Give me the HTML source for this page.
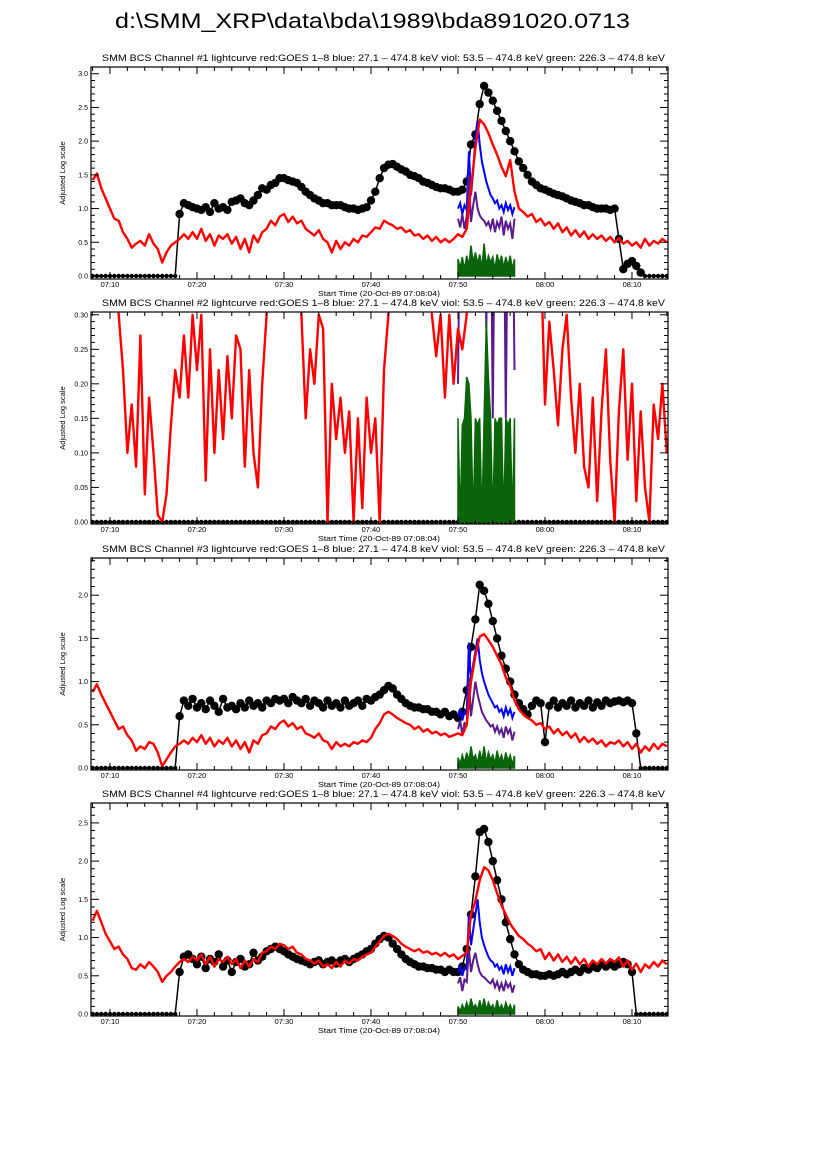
<!DOCTYPE html>
<html>
<head>
<meta charset="utf-8">
<style>
html,body{margin:0;padding:0;background:#fff;}
svg{display:block;font-family:"Liberation Sans",sans-serif;}
</style>
</head>
<body>
<svg id="fig" width="826" height="1169" viewBox="0 0 826 1169" xmlns="http://www.w3.org/2000/svg">
<rect x="0" y="0" width="826" height="1169" fill="#fff"/>
<text x="115" y="28" font-size="21" textLength="515" lengthAdjust="spacingAndGlyphs" fill="#000">d:\SMM_XRP\data\bda\1989\bda891020.0713</text>
</svg>
<script>
// ---- shared time grids (minutes after 07:00) ----
const tStart = 8, tStep = 0.5;           // red / black series grid start & step
const hxStart = 50, hxStep = 0.25;       // blue / violet / green grid start & step
const xTickMinutes = [10,20,30,40,50,60,70];
const xTickLabels = ["07:10","07:20","07:30","07:40","07:50","08:00","08:10"];

// ---- Panel 1 ----
const p1Red = [1.42,1.52,1.30,1.15,1.00,0.85,0.82,0.65,0.55,0.42,
0.48,0.52,0.45,0.62,0.48,0.40,0.20,0.35,0.45,0.50,
0.55,0.62,0.55,0.65,0.55,0.70,0.52,0.62,0.45,0.60,
0.55,0.62,0.48,0.58,0.40,0.55,0.35,0.60,0.50,0.65,
0.70,0.82,0.75,0.88,0.92,0.80,0.88,0.78,0.82,0.70,
0.65,0.60,0.68,0.55,0.50,0.35,0.52,0.40,0.50,0.45,
0.55,0.50,0.60,0.58,0.65,0.72,0.70,0.82,0.78,0.75,
0.70,0.72,0.65,0.68,0.60,0.62,0.55,0.60,0.52,0.58,
0.50,0.55,0.50,0.55,0.62,0.58,0.70,1.30,1.90,2.32,
2.25,2.12,1.95,1.80,1.62,1.48,1.72,1.25,1.00,0.95,
0.88,0.92,0.80,0.85,0.75,0.80,0.70,0.78,0.65,0.72,
0.60,0.68,0.58,0.66,0.55,0.62,0.55,0.60,0.52,0.58,
0.50,0.56,0.48,0.52,0.45,0.50,0.42,0.55,0.45,0.52,
0.48,0.55,0.50];
const p1Black = [0,0,0,0,0,0,0,0,0,0,
0,0,0,0,0,0,0,0,0,0,
0.92,1.08,1.05,1.02,1.00,0.98,1.02,0.95,1.08,1.00,
1.02,0.98,1.10,1.12,1.15,1.08,1.05,1.12,1.20,1.30,
1.28,1.35,1.38,1.45,1.45,1.42,1.40,1.38,1.32,1.25,
1.20,1.15,1.12,1.08,1.08,1.05,1.05,1.05,1.02,1.00,
1.00,0.98,1.00,1.02,1.12,1.25,1.45,1.60,1.65,1.66,
1.62,1.58,1.55,1.50,1.48,1.45,1.40,1.38,1.35,1.32,
1.30,1.30,1.28,1.25,1.25,1.28,1.40,1.95,2.10,2.55,
2.82,2.72,2.60,2.45,2.30,2.15,2.00,1.85,1.70,1.60,
1.50,1.40,1.35,1.30,1.28,1.25,1.22,1.20,1.18,1.15,
1.12,1.10,1.08,1.05,1.05,1.02,1.00,1.00,1.00,0.98,
1.00,0.55,0.10,0.18,0.22,0.15,0.05,0,0,0,
0,0,0];
const p1Blue = [1.00,1.08,0.92,1.05,0.98,1.85,1.20,1.55,2.05,2.30,1.95,1.70,1.55,1.40,1.30,1.20,1.15,1.08,1.12,1.00,1.05,0.95,1.08,0.98,1.05,0.92,1.02];
const p1Viol = [0.85,0.72,0.92,0.70,0.88,1.50,0.80,1.05,1.25,1.00,0.90,0.85,0.82,0.75,0.80,0.70,0.85,0.65,0.80,0.72,0.88,0.60,0.82,0.70,0.78,0.55,0.85];
const p1Green = [0.25,0.12,0.28,0.10,0.30,0.15,0.45,0.20,0.35,0.18,0.32,0.12,0.48,0.15,0.30,0.20,0.28,0.10,0.32,0.18,0.30,0.12,0.28,0.15,0.30,0.10,0.25];
const p1YTicks = [0,0.5,1.0,1.5,2.0,2.5,3.0];
const p1YLabels = ["0.0","0.5","1.0","1.5","2.0","2.5","3.0"];

// ---- Panel 2 ----
const p2Red = [0.40,0.40,0.40,0.40,0.40,0.40,0.30,0.22,0.10,0.17,
0.08,0.27,0.04,0.18,0.10,0.01,0.00,0.04,0.14,0.22,
0.18,0.27,0.18,0.30,0.22,0.30,0.06,0.25,0.10,0.22,
0.12,0.24,0.15,0.27,0.25,0.08,0.22,0.10,0.05,0.20,
0.30,0.40,0.40,0.40,0.40,0.40,0.40,0.40,0.30,0.15,
0.25,0.20,0.30,0.28,0.00,0.20,0.12,0.18,0.10,0.16,
0.00,0.15,0.02,0.18,0.10,0.15,0.00,0.22,0.30,0.40,
0.40,0.40,0.40,0.40,0.40,0.40,0.40,0.40,0.30,0.24,
0.30,0.18,0.30,0.20,0.28,0.25,0.30,0.40,0.40,0.40,
0.40,0.40,0.40,0.40,0.40,0.40,0.40,0.40,0.40,0.40,
0.40,0.40,0.40,0.40,0.17,0.29,0.22,0.14,0.25,0.30,
0.18,0.10,0.20,0.08,0.05,0.18,0.03,0.16,0.25,0.09,
0.00,0.16,0.25,0.09,0.20,0.03,0.16,0.05,0.00,0.17,
0.12,0.20,0.10];
const p2Black = [0,0,0,0,0,0,0,0,0,0,0,0,0,0,0,0,0,0,0,0,
0,0,0,0,0,0,0,0,0,0,0,0,0,0,0,0,0,0,0,0,
0,0,0,0,0,0,0,0,0,0,0,0,0,0,0,0,0,0,0,0,
0,0,0,0,0,0,0,0,0,0,0,0,0,0,0,0,0,0,0,0,
0,0,0,0,0,0,0,0,0,0,0,0,0,0,0,0,0,0,0,0,
0,0,0,0,0,0,0,0,0,0,0,0,0,0,0,0,0,0,0,0,
0,0,0,0,0,0,0,0,0,0,0,0,0];
const p2Blue = [0.5,0.5,0.5,0.5,0.5,0.5,0.5,0.5,0.5,0.5,0.5,0.5,0.5,0.5,0.5,0.5,0.5,0.5,0.5,0.5,0.5,0.5,0.5,0.5,0.5,0.5,0.5];
const p2Viol = [0.20,0.5,0.5,0.5,0.5,0.5,0.5,0.5,0.5,0.5,0.5,0.5,0.5,0.28,0.5,0.5,0.15,0.5,0.5,0.5,0.5,0.5,0.15,0.5,0.5,0.5,0.22];
const p2Green = [0.15,0.0,0.14,0.15,0.21,0.20,0.15,0.0,0.15,0.14,0.15,0.0,0.15,0.29,0.21,0.15,0.0,0.15,0.14,0.15,0.15,0.0,0.15,0.14,0.15,0.0,0.15];
const p2YTicks = [0,0.05,0.10,0.15,0.20,0.25,0.30];
const p2YLabels = ["0.00","0.05","0.10","0.15","0.20","0.25","0.30"];

// ---- Panel 3 ----
const p3Red = [0.88,0.97,0.85,0.75,0.65,0.55,0.45,0.48,0.38,0.32,
0.20,0.25,0.22,0.30,0.28,0.18,0.02,0.10,0.18,0.25,
0.28,0.32,0.28,0.35,0.30,0.38,0.28,0.35,0.25,0.32,
0.28,0.35,0.25,0.32,0.22,0.30,0.18,0.32,0.28,0.38,
0.40,0.48,0.45,0.52,0.55,0.48,0.52,0.45,0.48,0.40,
0.38,0.35,0.40,0.32,0.30,0.22,0.30,0.25,0.28,0.25,
0.30,0.28,0.32,0.30,0.35,0.45,0.52,0.62,0.65,0.62,
0.58,0.55,0.52,0.50,0.45,0.48,0.42,0.45,0.40,0.42,
0.38,0.40,0.36,0.38,0.40,0.38,0.50,1.00,1.30,1.52,
1.55,1.48,1.40,1.30,1.20,1.05,0.95,0.78,0.68,0.62,
0.58,0.55,0.50,0.52,0.45,0.48,0.40,0.45,0.38,0.42,
0.35,0.40,0.30,0.36,0.30,0.34,0.28,0.32,0.25,0.30,
0.28,0.32,0.25,0.30,0.22,0.28,0.18,0.25,0.20,0.28,
0.22,0.28,0.25];
const p3Black = [0,0,0,0,0,0,0,0,0,0,
0,0,0,0,0,0,0,0,0,0,
0.60,0.78,0.72,0.80,0.70,0.75,0.68,0.78,0.72,0.65,
0.80,0.70,0.72,0.68,0.75,0.70,0.78,0.72,0.75,0.70,
0.78,0.75,0.80,0.78,0.80,0.75,0.82,0.78,0.75,0.80,
0.72,0.78,0.75,0.70,0.78,0.72,0.75,0.70,0.78,0.72,
0.75,0.78,0.72,0.80,0.78,0.82,0.85,0.90,0.95,0.92,
0.85,0.80,0.75,0.72,0.70,0.70,0.68,0.68,0.65,0.65,
0.62,0.65,0.60,0.62,0.58,0.65,0.90,1.40,1.72,2.12,
2.05,1.90,1.70,1.50,1.30,1.15,1.00,0.85,0.75,0.68,
0.62,0.72,0.78,0.75,0.30,0.72,0.78,0.70,0.75,0.72,
0.78,0.70,0.75,0.72,0.78,0.70,0.76,0.72,0.78,0.75,
0.77,0.78,0.76,0.78,0.75,0.40,0,0,0,0,
0,0,0];
const p3Blue = [0.60,0.68,0.55,0.65,0.62,1.45,1.00,1.20,1.35,1.50,1.25,1.10,1.00,0.92,0.85,0.80,0.75,0.70,0.72,0.65,0.68,0.60,0.70,0.62,0.68,0.58,0.65];
const p3Viol = [0.45,0.55,0.38,0.52,0.50,1.05,0.60,0.80,1.00,0.85,0.75,0.65,0.60,0.55,0.52,0.48,0.50,0.42,0.48,0.40,0.45,0.35,0.48,0.40,0.45,0.32,0.42];
const p3Green = [0.12,0.05,0.15,0.06,0.18,0.08,0.25,0.10,0.15,0.05,0.20,0.08,0.25,0.06,0.18,0.10,0.15,0.05,0.20,0.08,0.15,0.05,0.18,0.08,0.15,0.04,0.14];
const p3YTicks = [0,0.5,1.0,1.5,2.0];
const p3YLabels = ["0.0","0.5","1.0","1.5","2.0"];

// ---- Panel 4 ----
const p4Red = [1.22,1.35,1.20,1.05,0.95,0.85,0.88,0.78,0.72,0.60,
0.58,0.65,0.60,0.68,0.62,0.55,0.42,0.50,0.55,0.62,
0.68,0.72,0.68,0.75,0.70,0.78,0.65,0.75,0.62,0.72,
0.68,0.75,0.65,0.72,0.60,0.70,0.62,0.72,0.68,0.80,
0.82,0.88,0.85,0.92,0.90,0.85,0.88,0.80,0.78,0.72,
0.70,0.66,0.70,0.62,0.65,0.60,0.68,0.62,0.70,0.66,
0.72,0.70,0.75,0.78,0.80,0.88,0.95,1.02,1.05,1.02,
0.98,0.92,0.88,0.85,0.82,0.85,0.80,0.82,0.78,0.80,
0.76,0.80,0.75,0.78,0.72,0.76,0.80,1.30,1.48,1.75,
1.92,1.88,1.75,1.58,1.42,1.30,1.18,1.10,1.02,0.98,
0.92,0.88,0.82,0.85,0.72,0.80,0.70,0.78,0.68,0.75,
0.66,0.74,0.65,0.72,0.62,0.70,0.65,0.72,0.66,0.72,
0.68,0.74,0.62,0.70,0.58,0.66,0.55,0.65,0.60,0.68,
0.62,0.70,0.65];
const p4Black = [0,0,0,0,0,0,0,0,0,0,
0,0,0,0,0,0,0,0,0,0,
0.55,0.75,0.78,0.72,0.65,0.75,0.60,0.72,0.68,0.78,
0.62,0.70,0.55,0.68,0.72,0.62,0.65,0.80,0.70,0.75,
0.82,0.85,0.88,0.85,0.82,0.78,0.75,0.72,0.70,0.68,
0.65,0.68,0.70,0.65,0.68,0.70,0.66,0.70,0.72,0.68,
0.72,0.75,0.78,0.82,0.85,0.92,0.98,1.02,1.00,0.92,
0.85,0.78,0.72,0.68,0.65,0.62,0.62,0.60,0.60,0.58,
0.58,0.55,0.58,0.55,0.55,0.62,0.85,1.30,1.80,2.38,
2.42,2.25,2.00,1.75,1.50,1.20,0.98,0.78,0.65,0.58,
0.55,0.52,0.52,0.50,0.50,0.52,0.50,0.52,0.55,0.52,
0.55,0.58,0.55,0.60,0.58,0.62,0.60,0.65,0.62,0.65,
0.62,0.65,0.68,0.65,0.55,0,0,0,0,0,
0,0,0];
const p4Blue = [0.55,0.62,0.50,0.60,0.58,1.30,0.90,1.10,1.30,1.50,1.20,1.00,0.90,0.82,0.75,0.70,0.68,0.62,0.65,0.58,0.62,0.52,0.65,0.55,0.62,0.50,0.60];
const p4Viol = [0.40,0.48,0.30,0.45,0.42,0.85,0.55,0.70,0.80,0.65,0.55,0.50,0.48,0.45,0.42,0.40,0.45,0.35,0.42,0.32,0.40,0.30,0.42,0.35,0.40,0.28,0.38];
const p4Green = [0.10,0.04,0.12,0.05,0.15,0.06,0.20,0.08,0.12,0.05,0.18,0.06,0.20,0.05,0.15,0.08,0.12,0.04,0.18,0.06,0.12,0.04,0.15,0.06,0.12,0.03,0.12];
const p4YTicks = [0,0.5,1.0,1.5,2.0,2.5];
const p4YLabels = ["0.0","0.5","1.0","1.5","2.0","2.5"];

const NS = "http://www.w3.org/2000/svg";
const svg = document.getElementById('fig');
const X0 = 91, X1 = 668, T0 = 7.82, T1 = 74.14;
function xs(t){ return X0 + (t - T0) / (T1 - T0) * (X1 - X0); }
function mk(tag, attrs, parent){
  const e = document.createElementNS(NS, tag);
  for (const k in attrs) e.setAttribute(k, attrs[k]);
  (parent || svg).appendChild(e);
  return e;
}

function drawPanel(n, top, bottom, ymin, ymax, yTicks, yLabels, minorStep, red, black, blue, viol, green){
  const g = mk('g', {});
  
  
  const ys = v => bottom - (v - ymin) / (ymax - ymin) * (bottom - top);
  const clipId = 'clip' + n;
  const cp = mk('clipPath', {id: clipId}, g);
  mk('rect', {x: X0, y: top, width: X1 - X0, height: bottom - top}, cp);

  const title = mk('text', {x: 102, y: top - 6, 'font-size': 9.5, textLength: 563, lengthAdjust: 'spacingAndGlyphs', fill: '#000'}, g);
  title.textContent = 'SMM BCS Channel #' + n + ' lightcurve  red:GOES 1\u20138  blue: 27.1 \u2013 474.8 keV  viol: 53.5 \u2013 474.8 keV  green: 226.3 \u2013 474.8 keV';
  
  

  const plot = mk('g', {'clip-path': 'url(#' + clipId + ')'}, g);
  
  

  // black series: line + dots
  let d = '';
  black.forEach((v, i) => { d += (i ? 'L' : 'M') + xs(tStart + i * tStep).toFixed(1) + ' ' + ys(v).toFixed(1); });
  const bl = mk('path', {d: d, fill: 'none', stroke: '#000', 'stroke-width': 1.5}, plot);
  
  
  black.forEach((v, i) => {
    const c = mk('circle', {cx: xs(tStart + i * tStep).toFixed(1), cy: ys(v).toFixed(1), r: v === 0 ? 2.2 : 4.2, fill: '#000'}, plot);
    
    
  });

  function hxLine(arr, color, name){
    let p = '';
    arr.forEach((v, i) => { p += (i ? 'L' : 'M') + xs(hxStart + i * hxStep).toFixed(1) + ' ' + ys(v).toFixed(1); });
    const e = mk('path', {d: p, fill: 'none', stroke: color, 'stroke-width': 2}, plot);
    
    
  }
  hxLine(blue, '#0000ff', 'hxr-blue-line');
  hxLine(viol, '#5b1a8e', 'hxr-violet-line');
  // green as filled spikes from zero
  let gp = 'M' + xs(hxStart).toFixed(1) + ' ' + ys(0).toFixed(1);
  green.forEach((v, i) => { gp += 'L' + xs(hxStart + i * hxStep).toFixed(1) + ' ' + ys(v).toFixed(1); });
  gp += 'L' + xs(hxStart + (green.length - 1) * hxStep).toFixed(1) + ' ' + ys(0).toFixed(1) + 'Z';
  const ge = mk('path', {d: gp, fill: '#0a640a', stroke: '#0a640a', 'stroke-width': 1.5}, plot);
  
  

  let rp = '';
  red.forEach((v, i) => { rp += (i ? 'L' : 'M') + xs(tStart + i * tStep).toFixed(1) + ' ' + ys(v).toFixed(1); });
  const re = mk('path', {d: rp, fill: 'none', stroke: '#ff0000', 'stroke-width': 2.4, 'stroke-linejoin': 'round'}, plot);
  
  

  // frame
  const fr = mk('rect', {x: X0, y: top, width: X1 - X0, height: bottom - top, fill: 'none', stroke: '#000', 'stroke-width': 1.2}, g);
  
  

  // x ticks
  const xt = mk('g', {stroke: '#000', 'stroke-width': 1}, g);
  
  
  for (let m = 8; m <= 74; m += 2){
    const x = xs(m), L = (m % 10 === 0) ? 7 : 4;
    mk('line', {x1: x, y1: bottom, x2: x, y2: bottom - L}, xt);
    mk('line', {x1: x, y1: top, x2: x, y2: top + L}, xt);
  }
  xTickMinutes.forEach((m, i) => {
    const t = mk('text', {x: xs(m), y: bottom + 8, 'font-size': 7.5, 'text-anchor': 'middle', fill: '#000'}, g);
    t.textContent = xTickLabels[i];
    
    
  });
  const xa = mk('text', {x: 379, y: bottom + 17, 'font-size': 7.5, 'text-anchor': 'middle', textLength: 122, lengthAdjust: 'spacingAndGlyphs', fill: '#000'}, g);
  xa.textContent = 'Start Time (20-Oct-89 07:08:04)';
  
  

  // y ticks
  const yt = mk('g', {stroke: '#000', 'stroke-width': 1}, g);
  
  
  const nMinor = Math.floor((ymax - 0) / minorStep + 1e-6);
  for (let k = 0; k <= nMinor; k++){
    const v = k * minorStep, y = ys(v);
    const major = (k % 5 === 0);
    const L = major ? 8 : 4;
    mk('line', {x1: X0, y1: y, x2: X0 + L, y2: y}, yt);
    mk('line', {x1: X1, y1: y, x2: X1 - L, y2: y}, yt);
  }
  yTicks.forEach((v, i) => {
    const t = mk('text', {x: X0 - 3, y: ys(v) + 2.5, 'font-size': 7, 'text-anchor': 'end', fill: '#000'}, g);
    t.textContent = yLabels[i];
    
    
  });
  const cy = (top + bottom) / 2;
  const ya = mk('text', {x: 65, y: cy, 'font-size': 7.5, 'text-anchor': 'middle', transform: 'rotate(-90 65 ' + cy + ')', fill: '#000'}, g);
  ya.textContent = 'Adjusted Log scale';
  
  
}

drawPanel(1, 67, 279, -0.045, 3.1, p1YTicks, p1YLabels, 0.1, p1Red, p1Black, p1Blue, p1Viol, p1Green);
drawPanel(2, 312, 524, -0.003, 0.304, p2YTicks, p2YLabels, 0.01, p2Red, p2Black, p2Blue, p2Viol, p2Green);
drawPanel(3, 558, 770, -0.023, 2.43, p3YTicks, p3YLabels, 0.1, p3Red, p3Black, p3Blue, p3Viol, p3Green);
drawPanel(4, 803, 1016, -0.026, 2.76, p4YTicks, p4YLabels, 0.1, p4Red, p4Black, p4Blue, p4Viol, p4Green);
</script>
</body>
</html>
